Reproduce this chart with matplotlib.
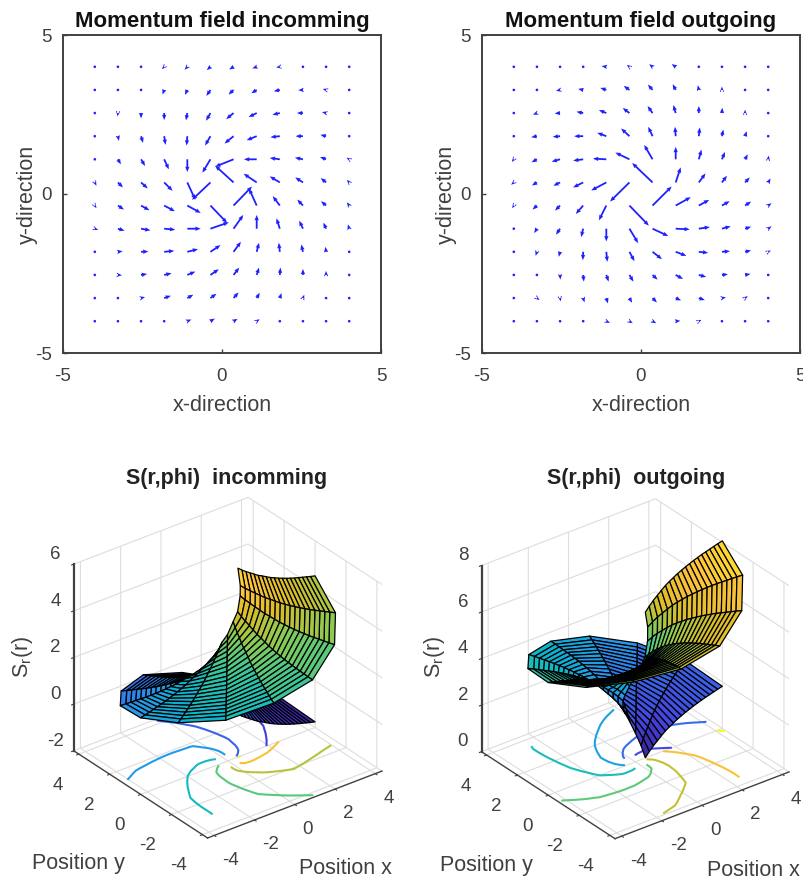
import numpy as np
import matplotlib
matplotlib.use('Agg')
import matplotlib.pyplot as plt
from matplotlib.colors import LinearSegmentedColormap, Normalize

plt.rcParams['font.family'] = ['Liberation Sans', 'DejaVu Sans']
plt.rcParams['axes.unicode_minus'] = False
plt.rcParams['mathtext.fontset'] = 'custom'
plt.rcParams['mathtext.rm'] = 'Liberation Sans'

GREY = '#404040'
W, H = 804.0, 880.0

# arrow grid, y from top row to bottom row
grid_x = np.linspace(-4, 4, 12)
grid_y = np.linspace(4, -4, 12)

# vectors, (dx, dy) per arrow, 95 = one axis unit
u_in = [[-3,-5,-5,-7,-8,-11,-13,-13,-11,-8,-7,-4],
        [-4,-4,-3,-5,-7,-12,-15,-16,-18,-14,-10,-6],
        [-3,-1,0,0,-4,-13,-22,-24,-22,-18,-12,-6],
        [-1,3,6,4,-2,-16,-27,-30,-28,-22,-17,-6],
        [3,9,12,14,0,-24,-55,-38,-30,-24,-18,-8],
        [5,15,20,25,24,-55,-55,-39,-30,-23,-16,-7],
        [5,18,25,32,40,50,55,-23,-21,-17,-15,-7],
        [10,20,28,33,40,55,29,0,-10,-11,-8,-4],
        [5,14,22,30,32,30,22,7,-3,-5,-2,0],
        [4,12,18,22,24,25,17,7,2,0,0,5],
        [3,6,12,20,18,18,15,9,5,4,4,4],
        [2,4,7,8,12,13,12,9,6,5,3,3]]
v_in = [[-2,-3,-4,-7,-9,-10,-8,-5,-2,0,1,1],
        [-3,-2,-8,-14,-15,-18,-14,-10,-4,-1,3,3],
        [-5,-10,-16,-21,-22,-23,-18,-12,-5,0,3,3],
        [-5,-14,-20,-26,-28,-28,-22,-12,-3,0,4,3],
        [-8,-15,-20,-30,-38,-40,-22,0,4,5,7,5],
        [-10,-15,-18,-25,-52,-52,50,26,18,15,13,8],
        [-8,-12,-14,-17,-22,-52,57,51,28,18,13,10],
        [-4,-6,-5,-3,0,19,41,41,31,24,18,13],
        [0,2,1,3,8,20,30,27,27,22,15,7],
        [1,-1,3,5,10,17,22,22,22,18,12,6],
        [0,1,3,7,10,13,17,16,15,10,4,3],
        [1,0,1,2,5,8,7,6,6,4,4,2]]
u_out = [[-4,-6,-6,-7,-14,-8,-10,-12,-4,-5,-6,-1],
         [-5,-7,-12,-15,-18,-17,-14,-9,-3,0,-5,-2],
         [-5,-12,-16,-20,-22,-20,-15,-7,0,1,0,-1],
         [-5,-17,-22,-27,-27,-25,-13,-2,3,4,5,2],
         [-6,-16,-25,-30,-40,-42,-25,0,8,9,8,2],
         [-8,-15,-20,-30,-45,-58,-61,15,20,15,14,7],
         [-5,-13,-15,-22,-22,58,57,45,31,23,18,10],
         [-3,-8,-12,-6,0,26,47,42,33,26,18,10],
         [-2,-4,-4,-1,3,15,28,32,28,24,18,8],
         [1,1,1,2,7,12,15,22,22,18,16,6],
         [1,8,2,4,5,8,13,16,18,12,8,2],
         [1,4,7,7,11,10,11,14,8,3,4,2]]
v_out = [[-3,-1,-3,-3,2,6,8,8,7,4,3,3],
         [-4,-5,-3,3,6,12,16,17,14,10,6,4],
         [-5,-5,-1,4,9,15,21,24,21,16,10,4],
         [-3,-3,-2,0,10,23,28,28,26,20,15,8],
         [-8,-9,-7,-4,2,20,43,37,29,22,15,11],
         [-7,-9,-10,-15,-24,-57,58,45,27,20,15,12],
         [-8,-12,-15,-25,-44,-60,57,25,17,13,12,7],
         [-8,-13,-18,-25,-38,-43,-22,-2,5,7,6,7],
         [-5,-12,-15,-25,-30,-28,-22,-12,-3,2,4,4],
         [-4,-8,-14,-20,-20,-20,-14,-12,-6,2,3,4],
         [-3,-6,-10,-13,-16,-14,-13,-7,-6,2,6,3],
         [-3,-4,-2,-3,-5,-6,-6,1,4,5,3,2]]

# surface, rings and spokes of the polar mesh
ring_r = [0.5,0.7,0.9,1.1,1.3,1.5,1.7,1.9,2.1,2.3,2.5,2.7,2.9,3.1,3.3,3.5,3.7,3.9,4.1,4.33]
spoke_phi = np.linspace(0, 2*np.pi, 15)
# height on the rim for each spoke
rim_in = [-1.76,-1.31,-0.87,-0.35,0.19,0.43,0.85,1.28,1.74,2.10,2.62,2.98,3.55,3.87,4.50]
rim_out = [1.81,2.26,2.75,3.26,3.68,4.04,4.49,4.84,5.30,5.78,6.13,6.48,7.06,7.54,8.06]
# height change from the rim along a spoke, for each ring
rise_in = [1.60,1.45,1.32,1.20,1.08,0.96,0.87,0.77,0.67,0.59,0.51,0.44,0.37,0.31,0.25,0.20,0.15,0.10,0.05,0]
rise_out = [-1.80,-1.60,-1.42,-1.27,-1.12,-0.98,-0.87,-0.77,-0.67,-0.59,-0.51,-0.44,-0.37,-0.31,-0.25,-0.20,-0.15,-0.10,-0.05,0]

levels_in = [-1,0,1,2,3,4,5,6]
levels_out = [1,2,3,4,5,6,7,8]
xy_ticks = [-4,-2,0,2,4]

parula = LinearSegmentedColormap.from_list('parula', ['#3E26A8','#4545E0','#3A62E8','#2796EB','#08B5D0',
                                                      '#31C69F','#81CC59','#DCBD29','#FFC33E','#F9FB15'])

fig = plt.figure(figsize=(8.04, 8.80), dpi=100)


def box(l, t, r, b):
    return [l/W, 1-b/H, (r-l)/W, (b-t)/H]


def quiver_panel(pos, u, v, title):
    ax = fig.add_axes(box(*pos))
    gx, gy = np.meshgrid(grid_x, grid_y)
    ax.quiver(gx, gy, u, v, color='#2020ff', angles='xy', scale_units='xy',
              scale=95, units='dots', width=1.8, headwidth=2.4, headlength=3, headaxislength=2.8,
              minshaft=0.3, minlength=1.6, zorder=2)
    ax.set_xlim(-5, 5)
    ax.set_ylim(-5, 5)
    ax.set_xticks([-5, 0, 5])
    ax.set_yticks([-5, 0, 5])
    ax.tick_params(direction='in', length=3, width=1, color=GREY, labelcolor=GREY, labelsize=13.5)
    ax.tick_params(axis='x', pad=11)
    ax.tick_params(axis='y', pad=8)
    for s in ax.spines.values():
        s.set_linewidth(1.4)
        s.set_color(GREY)
    ax.set_xlabel('x-direction', fontsize=15.5, color=GREY, labelpad=7)
    ax.set_ylabel('y-direction', fontsize=15.5, color=GREY, labelpad=-2)
    ax.set_title(title, fontsize=16, fontweight='bold', color='#111111', pad=6)
    return ax


def surf_panel(pos, rim, rise, levels, zlim, zticks, zoom):
    ax = fig.add_axes(box(*pos), projection='3d', computed_zorder=False)
    ax.set_proj_type('ortho')
    ax.view_init(elev=30, azim=-127.5)
    ax.set_box_aspect((1, 1, 0.98), zoom=zoom)
    ax.patch.set_alpha(0)
    r, phi = np.meshgrid(ring_r, spoke_phi, indexing='ij')
    x = r*np.cos(phi)
    y = r*np.sin(phi)
    z = np.add.outer(rise, rim)
    norm = Normalize(z.min(), z.max())
    ax.contour(x, y, z, levels=levels, zdir='z', offset=zlim[0], cmap=parula, norm=norm, linewidths=1.5, zorder=1)
    ax.plot_surface(x, y, z, rstride=1, cstride=1, facecolors=parula(norm(z)), shade=False,
                    edgecolor='black', linewidth=0.9, zorder=2)
    ax.set_xlim(-4.33, 4.33)
    ax.set_ylim(-4.33, 4.33)
    ax.set_zlim(*zlim)
    ax.set_xticks(xy_ticks)
    ax.set_yticks(xy_ticks)
    ax.set_zticks(zticks)
    for a in (ax.xaxis, ax.yaxis, ax.zaxis):
        a.set_pane_color((1, 1, 1, 0))
        a.pane.set_edgecolor('#d0d0d0')
        a.line.set_color(GREY)
        a.line.set_linewidth(1.0)
        a._axinfo['grid'].update(color='#dddddd', linewidth=0.8)
        a._axinfo['tick'].update(inward_factor=0.15, outward_factor=0.0)
    ax.zaxis.line.set_linewidth(1.6)
    ax.tick_params(labelsize=13.5, colors=GREY)
    ax.tick_params(axis='x', pad=0)
    ax.tick_params(axis='y', pad=4)
    ax.tick_params(axis='z', pad=0)
    for t in ax.get_xticklabels():
        t.set_horizontalalignment('left')
    for t in ax.get_yticklabels():
        t.set_horizontalalignment('right')
    for t in ax.get_zticklabels():
        t.set_verticalalignment('bottom')
    return ax


quiver_panel((63, 35, 381, 353), u_in, v_in, 'Momentum field incomming')
quiver_panel((482, 35, 800, 353), u_out, v_out, 'Momentum field outgoing')

surf_panel((43, 487.5, 403, 857.5), rim_in, rise_in, levels_in, (-2, 6), [-2, 0, 2, 4, 6], 1.02)
surf_panel((453.5, 488.5, 807.5, 858.5), rim_out, rise_out, levels_out, (0, 8), [0, 2, 4, 6, 8], 1.035)

for cx, name in ((227, 'S(r,phi)  incomming'), (636, 'S(r,phi)  outgoing')):
    fig.text(cx/W, 1-478/H, name, ha='center', va='center', fontsize=15.5, fontweight='bold', color='#222222')
for lx, ly, rx, ry, zx in ((78, 863, 345, 868, 23), (486, 865, 753, 870, 435)):
    fig.text(lx/W, 1-ly/H, 'Position y', ha='center', va='center', fontsize=15.5, color=GREY)
    fig.text(rx/W, 1-ry/H, 'Position x', ha='center', va='center', fontsize=15.5, color=GREY)
    fig.text(zx/W, 1-657/H, r'$\mathregular{S_r(r)}$', rotation=90, ha='center', va='center', fontsize=15.5, color=GREY)

fig.savefig('out.png', dpi=100)
